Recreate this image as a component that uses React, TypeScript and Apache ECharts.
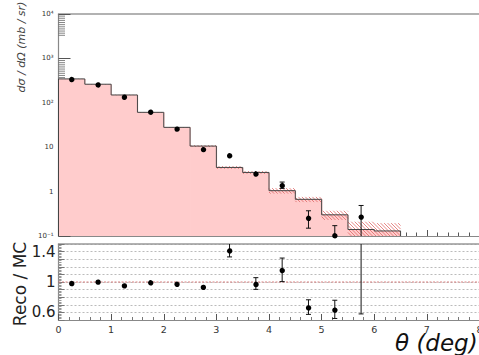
import React, { useEffect, useRef } from 'react';
import * as echarts from 'echarts';

// ---- data ----
const binEdges = [0, 0.5, 1, 1.5, 2, 2.5, 3, 3.5, 4, 4.5, 5, 5.5, 6, 6.5];
const mcValues = [345, 262, 150, 61, 28, 10.6, 3.5, 2.7, 1.05, 0.67, 0.3, 0.14, 0.13];
const mcErrors = [4, 3, 2, 1, 0.5, 0.5, 0.25, 0.2, 0.15, 0.09, 0.07, 0.07, 0.065];

const dataX = [0.25, 0.75, 1.25, 1.75, 2.25, 2.75, 3.25, 3.75, 4.25, 4.75, 5.25, 5.75];
const dataValues = [349, 264, 140, 64, 27, 9.4, 6.7, 2.6, 1.41, 0.26, 0.105, 0.277];
const dataErrors = [5, 4, 3, 1.5, 0.8, 0.5, 0.4, 0.25, 0.23, 0.11, 0.066, 0.21];

const ratioValues = [0.99, 1.01, 0.96, 1.0, 0.98, 0.94, 1.42, 0.98, 1.16, 0.67, 0.64, 1.8];
const ratioErrors = [0.01, 0.01, 0.01, 0.01, 0.01, 0.015, 0.09, 0.077, 0.155, 0.096, 0.12, 1.22];
const ratioReference = 1;

const logTickLabels = ['10⁻¹', '1', '10', '10²', '10³', '10⁴'];
const ratioTickLabels = ['0.6', '1', '1.4'];
const xTickLabels = ['0', '1', '2', '3', '4', '5', '6', '7', '8'];

const LOG_MIN = 0.1;
const LOG_MAX = 10000;
const R_MIN = 0.5;
const R_MAX = 1.5;
const X_MIN = 0;
const X_MAX = 8;

// minor log ticks (ROOT-style comb below each decade)
const logMinorTicks: number[] = [];
for (let d = 4; d >= 0; d--) {
  for (let k = 1; k <= 10; k++) logMinorTicks.push(Math.pow(10, d - 0.048 * k));
}

const FONT = '"DejaVu Sans", sans-serif';
const AXIS_COLOR = '#888';

function errorBarRenderer(yMin: number, yMax: number) {
  return (params: any, api: any) => {
    const x = api.value(0);
    const v = api.value(1);
    const e = api.value(2);
    const lo = Math.max(v - e, yMin);
    const hi = Math.min(v + e, yMax);
    const pLo = api.coord([x, lo]);
    const pHi = api.coord([x, hi]);
    const children: any[] = [];
    const style = { stroke: '#111', lineWidth: 1 };
    if (pLo[1] - pHi[1] > 1) {
      children.push({ type: 'line', shape: { x1: pLo[0], y1: pLo[1], x2: pHi[0], y2: pHi[1] }, style });
      if (v - e > yMin && pLo[1] - pHi[1] > 6)
        children.push({ type: 'line', shape: { x1: pLo[0] - 2.5, y1: pLo[1], x2: pLo[0] + 2.5, y2: pLo[1] }, style });
      if (v + e < yMax && pLo[1] - pHi[1] > 6)
        children.push({ type: 'line', shape: { x1: pHi[0] - 2.5, y1: pHi[1], x2: pHi[0] + 2.5, y2: pHi[1] }, style });
    }
    if (v >= yMin && v <= yMax) {
      const p = api.coord([x, v]);
      children.push({ type: 'circle', shape: { cx: p[0], cy: p[1], r: 2.7 }, style: { fill: '#000' } });
    }
    return { type: 'group', children };
  };
}

function histRenderer(params: any, api: any) {
  const lo = api.value(0);
  const hi = api.value(1);
  const v = api.value(2);
  const e = api.value(3);
  const prev = api.value(4);
  const isLast = params.dataIndex === mcValues.length - 1;
  const pL = api.coord([lo, v]);
  const pR = api.coord([hi, v]);
  const yBottom = api.coord([lo, LOG_MIN])[1];
  const yPrev = api.coord([lo, prev])[1];
  const children: any[] = [];
  children.push({
    type: 'rect',
    shape: { x: pL[0], y: pL[1], width: pR[0] - pL[0] + (isLast ? 0 : 0.8), height: yBottom - pL[1] },
    style: { fill: '#ffcccc' },
  });
  // hatched band (MC uncertainty)
  const y0 = api.coord([lo, Math.min(v + e, LOG_MAX)])[1];
  const y1 = api.coord([lo, Math.max(v - e, LOG_MIN)])[1];
  const x0 = pL[0];
  const x1 = pR[0];
  const step = 3.5;
  const cStart = Math.floor((y0 - x1) / step) * step;
  for (let c = cStart; c <= y1 - x0; c += step) {
    const xa = Math.max(x0, y0 - c);
    const xb = Math.min(x1, y1 - c);
    if (xb > xa) {
      children.push({
        type: 'line',
        shape: { x1: xa, y1: xa + c, x2: xb, y2: xb + c },
        style: { stroke: '#e06666', lineWidth: 0.8 },
      });
    }
  }
  const lineStyle = { stroke: '#444', lineWidth: 1 };
  children.push({ type: 'line', shape: { x1: x0, y1: yPrev, x2: x0, y2: pL[1] }, style: lineStyle });
  children.push({ type: 'line', shape: { x1: x0, y1: pL[1], x2: x1, y2: pR[1] }, style: lineStyle });
  if (isLast) children.push({ type: 'line', shape: { x1: x1, y1: pR[1], x2: x1, y2: yBottom }, style: lineStyle });
  return { type: 'group', children };
}

export default function App() {
  const ref = useRef<HTMLDivElement>(null);
  useEffect(() => {
    if (!ref.current) return;
    const chart = echarts.init(ref.current, undefined, { renderer: 'svg' });

    const histData = mcValues.map((v, i) => [binEdges[i], binEdges[i + 1], v, mcErrors[i], i === 0 ? LOG_MIN : mcValues[i - 1]]);
    const pointData = dataX.map((x, i) => [x, dataValues[i], dataErrors[i]]);
    const ratioData = dataX.map((x, i) => [x, ratioValues[i], ratioErrors[i]]);

    const hiddenTopAxis = (gridIndex: number) => ({
      type: 'value',
      gridIndex,
      position: 'top',
      min: X_MIN,
      max: X_MAX,
      axisLine: { show: true, onZero: false, lineStyle: { color: '#999', width: 1.5 } },
      axisTick: { show: false },
      axisLabel: { show: false },
      splitLine: { show: false },
    });

    chart.setOption({
      animation: false,
      grid: [
        { left: 58.5, top: 14, width: 421, height: 222, outerBoundsMode: 'none', containLabel: false },
        { left: 58.5, top: 244, width: 421, height: 76, outerBoundsMode: 'none', containLabel: false },
      ],
      xAxis: [
        {
          type: 'value',
          gridIndex: 0,
          min: X_MIN,
          max: X_MAX,
          interval: 1,
          axisLine: { show: true, onZero: false, lineStyle: { color: AXIS_COLOR, width: 1.2 } },
          axisTick: { show: true, inside: true, length: 6, lineStyle: { color: '#555' } },
          minorTick: { show: true, splitNumber: 5, length: 3.5, lineStyle: { color: '#555' } },
          axisLabel: { show: false },
          splitLine: { show: false },
        },
        hiddenTopAxis(0),
        {
          type: 'value',
          gridIndex: 1,
          min: X_MIN,
          max: X_MAX,
          interval: 1,
          axisLine: { show: true, onZero: false, lineStyle: { color: AXIS_COLOR, width: 1.2 } },
          axisTick: { show: true, inside: true, length: 6, lineStyle: { color: '#555' } },
          minorTick: { show: true, splitNumber: 5, length: 3, lineStyle: { color: '#777' } },
          axisLabel: {
            show: true,
            margin: 4,
            fontSize: 9.5,
            fontFamily: FONT,
            color: '#333',
            formatter: (v: number) => xTickLabels[Math.round(v)] ?? '',
          },
          splitLine: { show: false },
        },
        hiddenTopAxis(1),
      ],
      yAxis: [
        {
          type: 'log',
          gridIndex: 0,
          logBase: 10,
          min: LOG_MIN,
          max: LOG_MAX,
          splitNumber: 5,
          axisLine: { show: true, onZero: false, lineStyle: { color: AXIS_COLOR, width: 1.2 } },
          axisTick: { show: true, inside: true, length: 12, lineStyle: { color: '#555' } },
          axisLabel: {
            show: true,
            margin: 5,
            fontSize: 7,
            fontFamily: FONT,
            color: '#333',
            formatter: (v: number) => logTickLabels[Math.round(Math.log10(v)) + 1] ?? '',
          },
          splitLine: { show: false },
        },
        {
          type: 'value',
          gridIndex: 1,
          min: R_MIN,
          max: R_MAX,
          interval: 0.1,
          axisLine: { show: true, onZero: false, lineStyle: { color: AXIS_COLOR, width: 1.2 } },
          axisTick: { show: true, inside: true, length: 6, lineStyle: { color: '#777' } },
          minorTick: { show: true, splitNumber: 5, length: 3, lineStyle: { color: '#999' } },
          axisLabel: {
            show: true,
            margin: 3,
            fontSize: 15,
            fontFamily: FONT,
            color: '#222',
            formatter: (v: number) => ratioTickLabels.find((t) => Math.abs(parseFloat(t) - v) < 1e-6) ?? '',
          },
          splitLine: { show: true, lineStyle: { color: '#aaa', type: [2, 2], width: 0.8 } },
        },
      ],
      series: [
        {
          type: 'custom',
          name: 'logMinorTicks',
          xAxisIndex: 0,
          yAxisIndex: 0,
          z: 1,
          silent: true,
          data: logMinorTicks.map((t) => [X_MIN, t]),
          encode: { x: 0, y: 1 },
          renderItem: (params: any, api: any) => {
            const p = api.coord([api.value(0), api.value(1)]);
            return {
              type: 'line',
              shape: { x1: p[0], y1: p[1], x2: p[0] + 6.5, y2: p[1] },
              style: { stroke: '#666', lineWidth: 0.8 },
            };
          },
        },
        {
          type: 'custom',
          name: 'MC',
          xAxisIndex: 0,
          yAxisIndex: 0,
          z: 2,
          silent: true,
          data: histData,
          encode: { x: [0, 1], y: 2 },
          renderItem: histRenderer,
        },
        {
          type: 'custom',
          name: 'Reco',
          xAxisIndex: 0,
          yAxisIndex: 0,
          z: 4,
          silent: true,
          data: pointData,
          encode: { x: 0, y: 1 },
          renderItem: errorBarRenderer(LOG_MIN, LOG_MAX),
        },
        {
          type: 'line',
          name: 'ref',
          xAxisIndex: 2,
          yAxisIndex: 1,
          z: 3,
          silent: true,
          symbol: 'none',
          data: [
            [X_MIN, ratioReference],
            [X_MAX, ratioReference],
          ],
          lineStyle: { color: '#d98080', width: 1, type: [2, 1.5] },
        },
        {
          type: 'custom',
          name: 'ratio',
          xAxisIndex: 2,
          yAxisIndex: 1,
          z: 4,
          silent: true,
          data: ratioData,
          encode: { x: 0, y: 1 },
          renderItem: errorBarRenderer(R_MIN, R_MAX),
        },
      ],
      graphic: [
        {
          type: 'text',
          x: 21,
          y: 47,
          rotation: Math.PI / 2,
          style: {
            text: 'dσ / dΩ (mb / sr)',
            font: `italic 11px ${FONT}`,
            fill: '#444',
            align: 'center',
            verticalAlign: 'middle',
          },
        },
        {
          type: 'text',
          x: 20,
          y: 284,
          rotation: Math.PI / 2,
          style: {
            text: 'Reco / MC',
            font: `17px ${FONT}`,
            fill: '#222',
            align: 'center',
            verticalAlign: 'middle',
          },
        },
        {
          type: 'text',
          x: 395,
          y: 343,
          style: {
            text: 'θ (deg)',
            font: `italic 23px ${FONT}`,
            fill: '#111',
            align: 'left',
            verticalAlign: 'middle',
          },
        },
      ],
    });
    return () => chart.dispose();
  }, []);
  return <div ref={ref} style={{ position: 'absolute', left: 0, top: 0, width: 479, height: 355 }} />;
}
